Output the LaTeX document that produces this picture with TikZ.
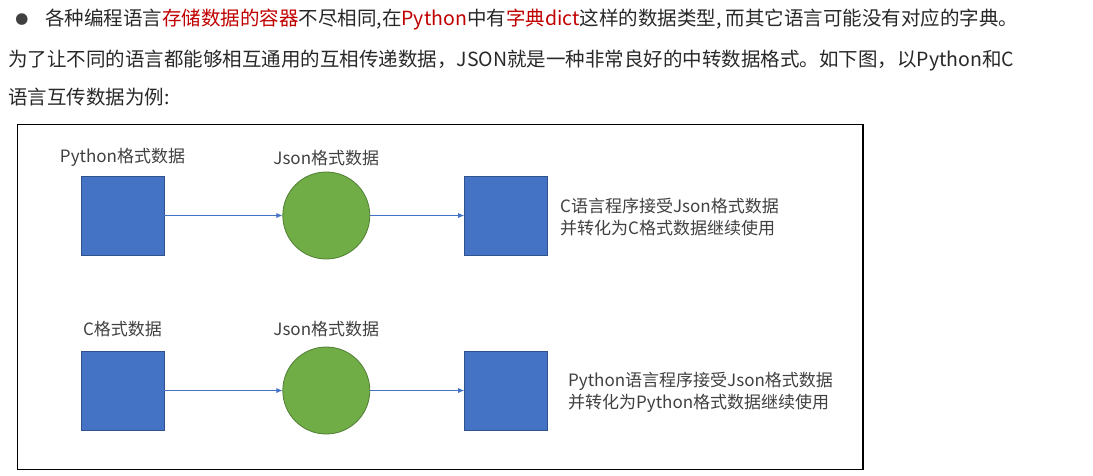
\documentclass[tikz,border=0pt]{standalone}
\usepackage{fontspec}
\setmainfont{Noto Sans CJK SC}
\usetikzlibrary{positioning,arrows.meta}
\definecolor{azul}{RGB}{68,114,196}
\definecolor{azulborde}{RGB}{47,82,143}
\definecolor{verde}{RGB}{112,173,71}
\definecolor{verdeborde}{RGB}{80,126,50}
\definecolor{rojo}{RGB}{192,0,0}
\definecolor{textogris}{RGB}{40,40,40}
\definecolor{textodiag}{RGB}{64,64,64}

\begin{document}
\begin{tikzpicture}[x=1pt, y=-1pt,
  cuadro/.style={rectangle, draw=azulborde, fill=azul, line width=0.8pt,
    minimum width=83pt, minimum height=79pt, inner sep=0pt},
  burbuja/.style={circle, draw=verdeborde, fill=verde, line width=0.8pt,
    minimum size=87pt, inner sep=0pt},
  flecha/.style={-{Latex[length=6pt,width=5pt]}, draw=azul, line width=0.7pt},
  etiqueta/.style={font=\fontsize{17}{22}\selectfont, text=textodiag,
    inner sep=0pt, align=left},
  parrafo/.style={anchor=west, font=\fontsize{19.5}{24}\selectfont,
    text=textogris, inner sep=0pt}
]
\useasboundingbox (0,0) rectangle (1093,475);
% texto de arriba
\node[font=\fontsize{13}{13}\selectfont, text=textodiag, inner sep=0pt] (vineta) at (22,20) {●};
\node[parrafo] (linea1) at (45,20) {各种编程语言\textcolor{rojo}{存储数据的容器}不尽相同,在\textcolor{rojo}{Python}中有\textcolor{rojo}{字典dict}这样的数据类型, 而其它语言可能没有对应的字典。};
\node[parrafo] (linea2) at (8,60) {为了让不同的语言都能够相互通用的互相传递数据，JSON就是一种非常良好的中转数据格式。如下图，以Python和C};
\node[parrafo] (linea3) at (8,97) {语言互传数据为例:};
% marco
\draw[line width=1.2pt] (17.5,124.5) rectangle (863,469.5);
% Python -> Json -> C
\node[cuadro] (py1) at (122.5,215.5) {};
\node[burbuja, right=118pt of py1] (js1) {};
\node[cuadro, right=94pt of js1] (c1) {};
\node[etiqueta, above=9pt of py1] (tpy1) {Python格式数据};
\node[etiqueta, above=5pt of js1] (tjs1) {Json格式数据};
\node[etiqueta, right=12pt of c1, yshift=-2pt] (tc1) {C语言程序接受Json格式数据\\并转化为C格式数据继续使用};
\draw[flecha] (py1) -- (js1);
\draw[flecha] (js1) -- (c1);
% C -> Json -> Python
\node[cuadro] (c2) at (122.5,390.5) {};
\node[burbuja, right=118pt of c2] (js2) {};
\node[cuadro, right=94pt of js2] (py2) {};
\node[etiqueta, above=13pt of c2] (tc2) {C格式数据};
\node[etiqueta, above=9pt of js2] (tjs2) {Json格式数据};
\node[etiqueta, right=20pt of py2, yshift=-2pt] (tpy2) {Python语言程序接受Json格式数据\\并转化为Python格式数据继续使用};
\draw[flecha] (c2) -- (js2);
\draw[flecha] (js2) -- (py2);
\end{tikzpicture}
\end{document}
